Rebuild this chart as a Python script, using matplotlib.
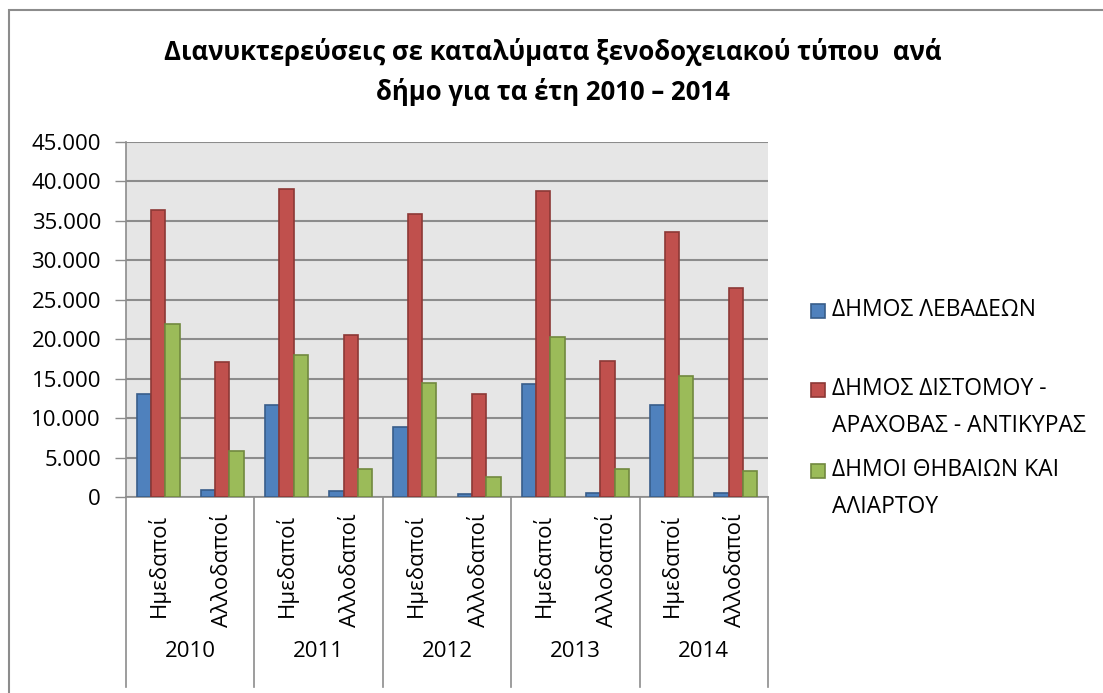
import matplotlib
matplotlib.use("Agg")
import matplotlib.pyplot as plt
from matplotlib.patches import Rectangle
import numpy as np

plt.rcParams['font.family'] = ['Open Sans', 'DejaVu Sans']

years = ['2010', '2011', '2012', '2013', '2014']
kinds = ['Ημεδαποί', 'Αλλοδαποί']
series_names = ['ΔΗΜΟΣ ΛΕΒΑΔΕΩΝ',
                'ΔΗΜΟΣ ΔΙΣΤΟΜΟΥ -\nΑΡΑΧΟΒΑΣ - ΑΝΤΙΚΥΡΑΣ',
                'ΔΗΜΟΙ ΘΗΒΑΙΩΝ ΚΑΙ\nΑΛΙΑΡΤΟΥ']
# order: 2010 Ημ, 2010 Αλλ, 2011 Ημ, ...
levadeon = [13100, 850, 11650, 760, 8900, 340, 14300, 470, 11650, 510]
distomou = [36400, 17150, 39000, 20550, 35900, 13000, 38850, 17200, 33550, 26500]
thivaion = [21900, 5850, 18000, 3500, 14450, 2550, 20300, 3500, 15350, 3300]
yticks = list(range(0, 45001, 5000))

faces = ['#4F81BD', '#C0504D', '#9BBB59']
edges = ['#385D8A', '#8C3836', '#71893F']
fs = 16

fig = plt.figure(figsize=(11.03, 6.93), dpi=100)
ax = fig.add_axes([126/1103, 1 - 497/693, (768-126)/1103, (497-142)/693])

x = np.arange(len(levadeon))
w = 0.224
for i, vals in enumerate([levadeon, distomou, thivaion]):
    ax.bar(x + (i - 1) * w, vals, w, color=faces[i], edgecolor=edges[i],
           linewidth=1.2, zorder=3)

ax.set_facecolor('#E6E6E6')
ax.set_xlim(-0.5, len(x) - 0.5)
ax.set_ylim(0, 45000)
ax.set_yticks(yticks)
ax.set_yticklabels([f'{v:,}'.replace(',', '.') for v in yticks], fontsize=fs)
ax.yaxis.grid(True, color='#8C8C8C', linewidth=1.5, zorder=1)
ax.set_axisbelow(True)
ax.tick_params(axis='y', length=8, width=1, color='#8C8C8C', pad=10)

for s in ['top', 'right']:
    ax.spines[s].set_visible(False)
for s in ['left', 'bottom']:
    ax.spines[s].set_color('#8C8C8C')
    ax.spines[s].set_linewidth(1.2)

ax.set_xticks(x)
ax.set_xticklabels(kinds * len(years), rotation=90, fontsize=fs)
ax.tick_params(axis='x', length=0, pad=12)

# year level of the category axis
trans = ax.get_xaxis_transform()
for j, yr in enumerate(years):
    ax.text(2 * j + 0.5, -0.435, yr, transform=trans, ha='center', va='center',
            fontsize=fs)
for j in range(len(years) + 1):
    ax.plot([2 * j - 0.5, 2 * j - 0.5], [0, -0.535], transform=trans,
            color='#8C8C8C', linewidth=1.2, clip_on=False)

fig.suptitle('Διανυκτερεύσεις σε καταλύματα ξενοδοχειακού τύπου  ανά\n'
             'δήμο για τα έτη 2010 – 2014',
             x=553/1103, y=1 - 38/693, va='top', fontsize=18.5,
             fontweight='bold', linespacing=1.55)

# legend, drawn by hand to follow the original spacing
leg_y = [311, 390, 471]
for i, name in enumerate(series_names):
    yy = 1 - leg_y[i] / 693
    fig.patches.append(Rectangle((811/1103, yy - 7/693), 14/1103, 14/693,
                                 transform=fig.transFigure, facecolor=faces[i],
                                 edgecolor=edges[i], linewidth=1.2))
    fig.text(832/1103, yy + 13/693, name, fontsize=16.5, va='top', ha='left',
             linespacing=1.7)

# outer chart border
fig.patches.append(Rectangle((9/1103, -0.1), 1.2, 1 - 10/693 + 0.1,
                             transform=fig.transFigure, fill=False,
                             edgecolor='#8C8C8C', linewidth=1.5))

fig.savefig('out.png', dpi=100)
